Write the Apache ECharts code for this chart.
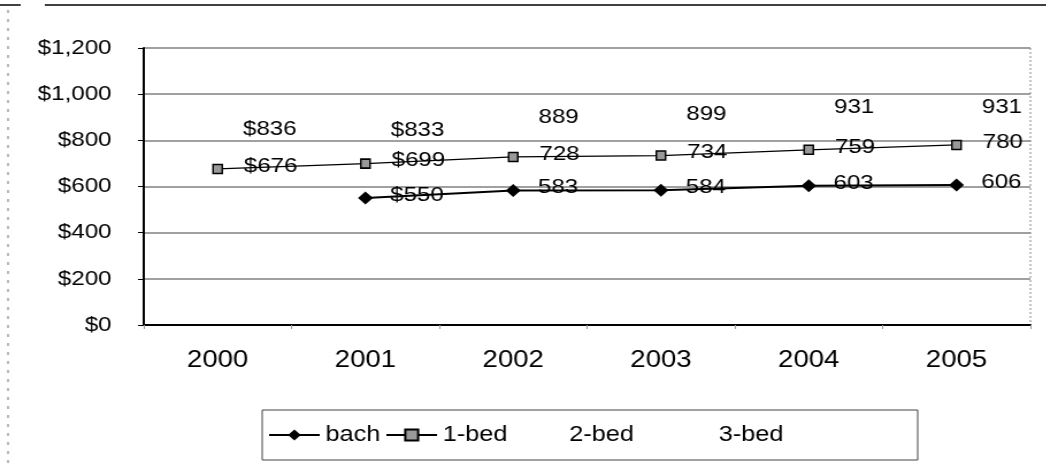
<!DOCTYPE html>
<html>
<head>
<meta charset="utf-8">
<script src="https://cdn.jsdelivr.net/npm/echarts@6/dist/echarts.min.js"></script>
<style>
  html, body { margin: 0; padding: 0; background: #fff; overflow: hidden; }
  /* the chart is laid out on a narrower canvas and widened to fill the page */
  #chart { width: 910px; height: 464px; transform: scaleX(1.15); transform-origin: 0 0; }
</style>
</head>
<body>
<div id="chart"></div>
<script>
// Average weekly rent by dwelling size
const years = ['2000', '2001', '2002', '2003', '2004', '2005'];
const bach = [null, 550, 583, 584, 603, 606];
const oneBed = [676, 699, 728, 734, 759, 780];
const twoBed = [836, 833, 889, 899, 931, 931];
const threeBed = [];
// value labels in the first two years carry a dollar sign
const labelPrefix = ['$', '$', '', '', '', ''];
const yTicks = { min: 0, max: 1200, interval: 200 };

const FONT = "'Liberation Sans', Arial, sans-serif";
const CLEAR = 'rgba(0,0,0,0)';

function valueLabel(distance) {
  return {
    show: true,
    position: 'right',
    distance: distance,
    offset: [0, -3],
    color: '#000',
    fontFamily: FONT,
    fontSize: 21,
    formatter: p => labelPrefix[p.dataIndex] + p.value
  };
}

const chart = echarts.init(document.getElementById('chart'));
chart.setOption({
  animation: false,
  backgroundColor: '#fff',
  grid: { left: 125, right: 14, top: 48, bottom: 139, containLabel: false },
  xAxis: {
    type: 'category',
    data: years,
    boundaryGap: true,
    axisLine: { lineStyle: { color: '#000', width: 2 } },
    axisTick: { show: true, length: 4, lineStyle: { color: '#999', width: 1 } },
    axisLabel: { color: '#000', fontFamily: FONT, fontSize: 24, margin: 23 }
  },
  yAxis: {
    type: 'value',
    min: yTicks.min,
    max: yTicks.max,
    interval: yTicks.interval,
    axisLine: { show: true, lineStyle: { color: '#000', width: 2 } },
    axisTick: { show: true, length: 5, lineStyle: { color: '#000', width: 1 } },
    splitLine: { show: true, lineStyle: { color: '#808080', width: 1.5 } },
    axisLabel: {
      color: '#000', fontFamily: FONT, fontSize: 21, margin: 28,
      formatter: v => '$' + v.toLocaleString('en-US')
    }
  },
  legend: [
    { name: 'bach', left: 233 },
    { name: '1-bed', left: 335 },
    { name: '2-bed', left: 446 },
    { name: '3-bed', left: 576 }
  ].map(l => ({
    data: [l.name],
    left: l.left,
    top: 424,
    padding: 0,
    itemWidth: 44,
    itemHeight: 14,
    itemGap: 0,
    textStyle: { color: '#000', fontFamily: FONT, fontSize: 22 },
    selectedMode: false
  })),
  graphic: [
    // outer frame of the chart
    { type: 'line', shape: { x1: 0, y1: 5, x2: 18, y2: 5 }, style: { stroke: '#000', lineWidth: 1.5 } },
    { type: 'line', shape: { x1: 39, y1: 5, x2: 910, y2: 5 }, style: { stroke: '#000', lineWidth: 1.5 } },
    { type: 'line', shape: { x1: 7, y1: 10, x2: 7, y2: 464 }, style: { stroke: '#777', lineWidth: 1, lineDash: [3, 6] } },
    // right edge of the plot area
    { type: 'line', shape: { x1: 896, y1: 48, x2: 896, y2: 325 }, style: { stroke: '#888', lineWidth: 1, lineDash: [2, 2] } },
    // legend box
    { type: 'rect', shape: { x: 228, y: 410, width: 570, height: 50 }, style: { fill: 'none', stroke: '#444', lineWidth: 1 } }
  ],
  series: [
    {
      name: 'bach', type: 'line', data: bach,
      symbol: 'diamond', symbolSize: 13,
      itemStyle: { color: '#000' },
      lineStyle: { color: '#000', width: 2 },
      label: valueLabel(15), z: 4
    },
    {
      name: '1-bed', type: 'line', data: oneBed,
      symbol: 'rect', symbolSize: [8, 9],
      itemStyle: { color: '#999', borderColor: '#000', borderWidth: 1.5 },
      lineStyle: { color: '#000', width: 1.2 },
      label: valueLabel(18), z: 3
    },
    {
      name: '2-bed', type: 'line', data: twoBed,
      symbol: 'circle', symbolSize: 10,
      itemStyle: { color: CLEAR, borderWidth: 0 },
      lineStyle: { color: CLEAR, width: 0 },
      label: valueLabel(17), z: 2
    },
    {
      name: '3-bed', type: 'line', data: threeBed,
      symbol: 'circle', symbolSize: 10,
      itemStyle: { color: CLEAR, borderWidth: 0 },
      lineStyle: { color: CLEAR, width: 0 },
      z: 1
    }
  ]
});
</script>
</body>
</html>
